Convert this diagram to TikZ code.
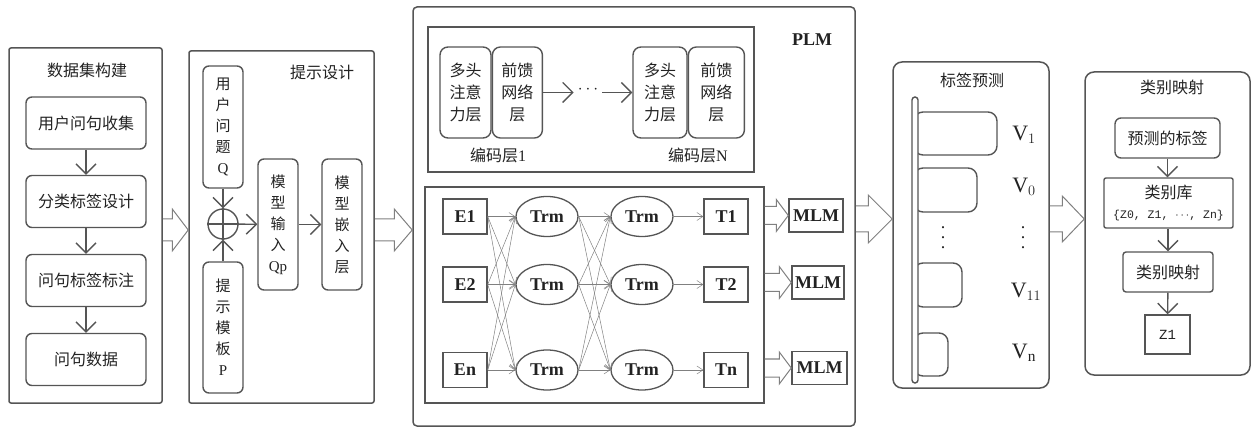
\documentclass[tikz,border=0pt]{standalone}
\usepackage{fontspec}
\setmainfont{Liberation Serif}
\setmonofont{Liberation Mono}
\newfontfamily\cjk{Noto Sans CJK SC}
\usetikzlibrary{positioning,arrows.meta,calc,shapes.geometric}

\definecolor{linegray}{HTML}{555555}
\definecolor{txt}{HTML}{222222}

% hollow arrow: from, to, shaft half width, head half width, head length
\newcommand\fatarrow[5]{%
  \draw[fat] let \p1=#1, \p2=#2 in
    (\x1,{\y1+#3pt}) -- ({\x2-#5pt},{\y1+#3pt}) -- ({\x2-#5pt},{\y1+#4pt}) -- (\x2,\y1)
    -- ({\x2-#5pt},{\y1-#4pt}) -- ({\x2-#5pt},{\y1-#3pt}) -- (\x1,{\y1-#3pt});}
% wider vertical dots
\newcommand\tallvdots{\vbox{\baselineskip=10pt\lineskiplimit=0pt\hbox{.}\hbox{.}\hbox{.}}}

\begin{document}
\begin{tikzpicture}[x=1pt, y=-1pt,
  font=\cjk\fontsize{16}{21}\selectfont, text=txt,
  panel/.style={draw=linegray, line width=1.5pt, rounded corners=2pt, inner sep=0pt},
  rpanel/.style={panel, rounded corners=9pt},
  box/.style={draw=linegray, line width=1.4pt, rounded corners=6pt, align=center, inner sep=0pt},
  flow/.style={box, minimum width=120, minimum height=52},
  vbox/.style={box, minimum width=40, font=\cjk\fontsize{15}{21}\selectfont},
  sq/.style={draw=linegray, line width=1.4pt, inner sep=0pt},
  lat/.style={font=\rmfamily\bfseries\fontsize{18}{20}\selectfont},
  tok/.style={sq, lat, minimum width=44, minimum height=35},
  trm/.style={draw=linegray, line width=1.3pt, ellipse, inner sep=0pt, minimum width=62, minimum height=40, lat},
  mlm/.style={sq, lat, minimum width=54, minimum height=33},
  encbox/.style={box, rounded corners=8pt, minimum height=91, font=\cjk\fontsize{16}{22}\selectfont},
  bar/.style={draw=linegray, line width=1.4pt, rounded corners=9pt, inner sep=0pt},
  vlab/.style={font=\rmfamily\fontsize{22}{24}\selectfont},
  vdot/.style={inner sep=0pt, font=\rmfamily\fontsize{18}{20}\selectfont},
  arr/.style={-{Straight Barb[length=10pt,width=20pt]}, draw=linegray, line width=1.4pt},
  link/.style={-{Straight Barb[length=6pt,width=8pt]}, draw=gray, line width=0.5pt},
  fat/.style={draw=gray, line width=1pt}]
\useasboundingbox (0,0) rectangle (1255,427);

% data set panel
\node[panel, minimum width=153, minimum height=355] (p1) at (85.5,225.5) {};
\node (p1lbl) at (87,70) {数据集构建};
\node[flow] (q1) at (86,123) {用户问句收集};
\node[flow] (q2) at (86,201.5) {分类标签设计};
\node[flow] (q3) at (86,280.5) {问句标签标注};
\node[flow] (q4) at (86,359.5) {问句数据};
\draw[arr] (q1) -- (q2);
\draw[arr] (q2) -- (q3);
\draw[arr] (q3) -- (q4);

% prompt panel
\node[panel, minimum width=185, minimum height=352] (p2) at (281.5,227) {};
\node (p2lbl) at (322,72) {提示设计};
\node[vbox, minimum height=122] (uq) at (223,127) {用\\户\\问\\题\\\textrm{Q}};
\node[circle, draw=linegray, line width=1.4pt, minimum size=30, inner sep=0pt] (add) at (223,224) {};
\draw[linegray, line width=1.2pt] (add.north) -- (add.south) (add.west) -- (add.east);
\node[vbox, minimum height=131] (tp) at (223,327.5) {提\\示\\模\\板\\\textrm{P}};
\node[vbox, minimum height=131] (qp) at (278,224.5) {模\\型\\输\\入\\\textrm{Qp}};
\node[vbox, minimum height=131] (emb) at (342,224.5) {模\\型\\嵌\\入\\层};
\draw[arr] (uq) -- (add);
\draw[arr] (tp) -- (add);
\draw[arr] (add) -- (qp);
\draw[arr] (qp) -- (emb);

% PLM panel
\node[panel, rounded corners=4pt, minimum width=442, minimum height=419] (plm) at (634,216.5) {};
\node[lat] (plmlbl) at (812,40) {PLM};
\node[sq, minimum width=326, minimum height=145] (enc) at (591,99.5) {};
\node[encbox, minimum width=51] (mh1) at (465.5,92.5) {多头\\注意\\力层};
\node[encbox, minimum width=50, right=0pt of mh1] (ff1) {前馈\\网络\\层};
\node[encbox, minimum width=54] (mhN) at (660,92.5) {多头\\注意\\力层};
\node[encbox, minimum width=56, right=0pt of mhN] (ffN) {前馈\\网络\\层};
\node[inner sep=4pt] (dots) at (588,90) {$\cdots$};
\draw[arr] (ff1.east) -- (dots.west |- ff1.east);
\draw[arr] (dots.east |- mhN.west) -- (mhN.west);
\node (enc1lbl) at (498,155) {编码层\textrm{1}};
\node (encNlbl) at (698,155) {编码层\textrm{N}};

\node[sq, minimum width=339, minimum height=216] (bert) at (594.5,295) {};
\node[tok] (e1) at (465,216.5) {E1};
\node[tok] (e2) at (465,284.5) {E2};
\node[tok] (en) at (465,370) {En};
\node[trm] (a1) at (547,216.5) {Trm};
\node[trm] (a2) at (547,284.5) {Trm};
\node[trm] (an) at (547,370) {Trm};
\node[trm] (b1) at (642,216.5) {Trm};
\node[trm] (b2) at (642,284.5) {Trm};
\node[trm] (bn) at (642,370) {Trm};
\node[tok] (o1) at (726,216.5) {T1};
\node[tok] (o2) at (726,284.5) {T2};
\node[tok] (on) at (726,370) {Tn};
\foreach \s in {e1,e2,en} \foreach \d in {a1,a2,an} \draw[link] (\s.east) -- (\d.west);
\foreach \s in {a1,a2,an} \foreach \d in {b1,b2,bn} \draw[link] (\s.east) -- (\d.west);
\draw[link] (b1) -- (o1);
\draw[link] (b2) -- (o2);
\draw[link] (bn) -- (on);
\node[mlm] (m1) at (816,215.5) {MLM};
\node[mlm, minimum width=52] (m2) at (818,282.5) {MLM};
\node[mlm, minimum width=55] (mn) at (819.5,368) {MLM};
\fatarrow{(bert.east |- m1)}{(m1.west)}{9}{16}{12}
\fatarrow{(bert.east |- m2)}{(m2.west)}{9}{16}{12}
\fatarrow{(bert.east |- mn)}{(mn.west)}{9}{16}{12}

% label prediction panel
\node[rpanel, minimum width=156, minimum height=326] (p4) at (971,225) {};
\node (p4lbl) at (972,80) {标签预测};
\node[bar, minimum width=83, minimum height=43] (v1) at (955.5,133.5) {};
\node[bar, minimum width=63, minimum height=44] (v0) at (945.5,190) {};
\node[bar, minimum width=48, minimum height=44] (v11) at (938,285) {};
\node[bar, minimum width=34, minimum height=43] (vn) at (931,354.5) {};
\node[bar, rounded corners=3pt, fill=white, minimum width=6, minimum height=286] (axis) at (915,240) {};
\node[vlab] (lv1) at (1024,135) {V$_1$};
\node[vlab] (lv0) at (1024,187) {V$_0$};
\node[vlab] (lv11) at (1026,292) {V$_{11}$};
\node[vlab] (lvn) at (1024,353) {V$_\mathrm{n}$};
\node[vdot] (vd1) at (943,238) {\tallvdots};
\node[vdot] (vd2) at (1023,238) {\tallvdots};

% category mapping panel
\node[rpanel, minimum width=165, minimum height=303] (p5) at (1167.5,223.5) {};
\node (p5lbl) at (1172,87) {类别映射};
\node[box, minimum width=105, minimum height=40] (pred) at (1167.5,138) {预测的标签};
\node[box, rounded corners=2pt, minimum width=129, minimum height=50, font=\cjk\fontsize{16}{20}\selectfont] (lib) at (1168.5,203)
  {类别库\\{\ttfamily\fontsize{11.5}{13}\selectfont\{Z0, Z1, $\cdots$, Zn\}}};
\node[box, rounded corners=3pt, minimum width=90, minimum height=40] (map) at (1168,272) {类别映射};
\node[sq, minimum width=45, minimum height=39, font=\ttfamily\fontsize{14}{16}\selectfont] (z1) at (1167.5,334.5) {Z1};
\draw[arr] (pred) -- (pred |- lib.north);
\draw[arr] (lib.south -| map) -- (map);
\draw[arr] (map) -- (z1);

% hollow arrows between panels
\coordinate (ha) at (0,230);
\coordinate (hb) at (0,219);
\fatarrow{(p1.east |- ha)}{(p2.west |- ha)}{11}{21}{16}
\fatarrow{(p2.east |- ha)}{(plm.west |- ha)}{11}{21}{18}
\fatarrow{(plm.east |- hb)}{(p4.west |- hb)}{13}{24}{24}
\fatarrow{(p4.east |- hb)}{(p5.west |- hb)}{13}{23}{22}
\end{tikzpicture}
\end{document}
